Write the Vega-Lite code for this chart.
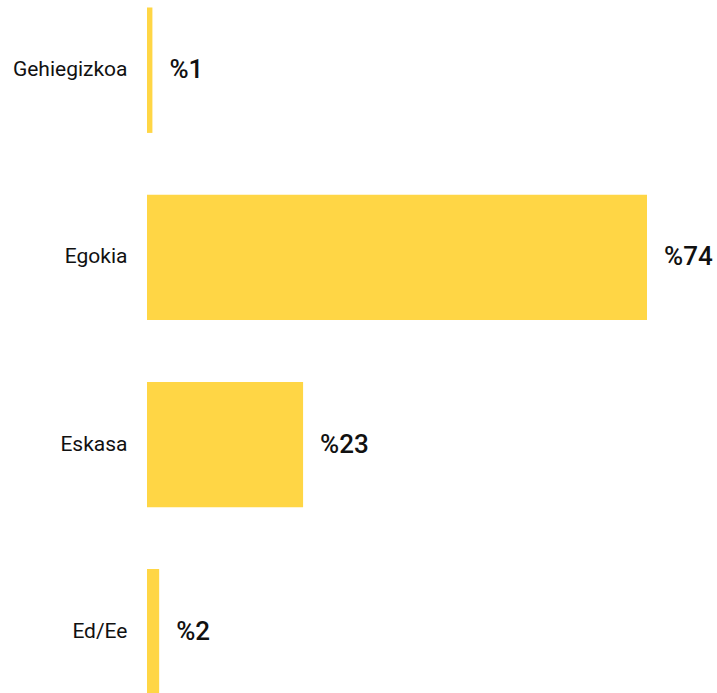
{
  "$schema": "https://vega.github.io/schema/vega-lite/v6.json",
  "autosize": "none",
  "padding": {"left": 147, "top": 0, "right": 70, "bottom": 0},
  "width": 500,
  "height": 702,
  "background": "white",
  "config": {"view": {"stroke": null}, "font": "Roboto"},
  "data": {
    "values": [
      {"category": "Gehiegizkoa", "value": 0.8, "label": "%1"},
      {"category": "Egokia", "value": 74, "label": "%74"},
      {"category": "Eskasa", "value": 23.1, "label": "%23"},
      {"category": "Ed/Ee", "value": 1.8, "label": "%2"}
    ]
  },
  "encoding": {
    "y": {
      "field": "category",
      "type": "nominal",
      "sort": null,
      "scale": {"paddingInner": 0.33, "paddingOuter": 0.04},
      "axis": {
        "title": null,
        "domain": false,
        "ticks": false,
        "labelPadding": 20,
        "labelFontSize": 21,
        "labelFont": "Roboto",
        "labelColor": "#111111",
        "labelLimit": 300
      }
    },
    "x": {
      "field": "value",
      "type": "quantitative",
      "scale": {"domain": [0, 74], "nice": false},
      "axis": null
    }
  },
  "layer": [
    {"mark": {"type": "bar", "color": "#FFD645"}},
    {
      "mark": {
        "type": "text",
        "align": "left",
        "baseline": "middle",
        "dx": 17,
        "fontSize": 26,
        "fontWeight": 500,
        "font": "Roboto",
        "color": "#111111"
      },
      "encoding": {"text": {"field": "label"}}
    }
  ]
}
